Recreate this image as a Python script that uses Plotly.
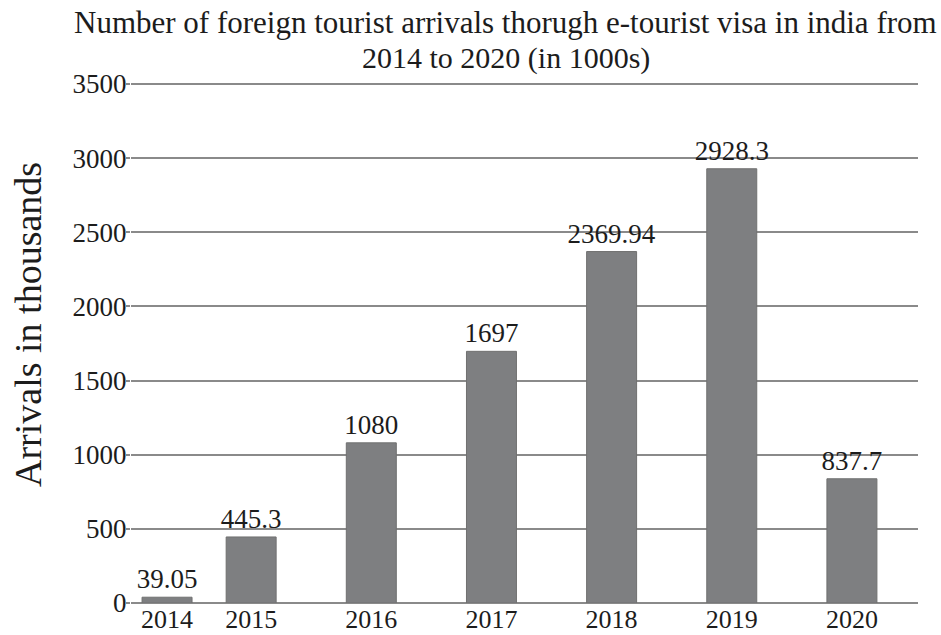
import plotly.graph_objects as go

# Foreign tourist arrivals on e-tourist visa, India (thousands)
years = ["2014", "2015", "2016", "2017", "2018", "2019", "2020"]
arrivals = [39.05, 445.3, 1080, 1697, 2369.94, 2928.3, 837.7]
value_labels = ["39.05", "445.3", "1080", "1697", "2369.94", "2928.3", "837.7"]
y_ticks = [0, 500, 1000, 1500, 2000, 2500, 3000, 3500]

# slot of each bar along the x axis (the first bar sits closer to the second)
slots = [0.3, 1, 2, 3, 4, 5, 6]

title_lines = [
    "Number of foreign tourist arrivals thorugh e-tourist visa in india from",
    "2014 to 2020 (in 1000s)",
]

SERIF = "Liberation Serif, Times New Roman, serif"
INK = "#1c1c1c"
GRID = "#8a8a8a"

# plot area in pixels
L, R, T, B = 131, 23, 81, 32
W, H = 941, 635
PH = H - T - B
PW = W - L - R
Y_TOP = 3520


def py(pix):
    """vertical pixel -> paper coordinate"""
    return (H - B - pix) / PH


def px(pix):
    """horizontal pixel -> paper coordinate"""
    return (pix - L) / PW


fig = go.Figure(
    go.Bar(
        x=slots,
        y=arrivals,
        width=0.416,
        text=value_labels,
        textposition="outside",
        constraintext="none",
        textfont=dict(family=SERIF, size=27, color=INK),
        cliponaxis=False,
        marker=dict(color="#7e7f81", line=dict(color="#707070", width=1)),
        hoverinfo="skip",
    )
)

annotations = [
    dict(
        text="Arrivals in thousands",
        textangle=-90,
        xref="paper",
        yref="paper",
        x=px(28),
        y=py(325),
        xanchor="center",
        yanchor="middle",
        showarrow=False,
        font=dict(family=SERIF, size=38, color=INK),
    ),
    dict(
        text=title_lines[0],
        xref="paper",
        yref="paper",
        x=px(505),
        y=py(23),
        xanchor="center",
        yanchor="middle",
        showarrow=False,
        font=dict(family=SERIF, size=31, color=INK),
    ),
    dict(
        text=title_lines[1],
        xref="paper",
        yref="paper",
        x=px(506),
        y=py(58),
        xanchor="center",
        yanchor="middle",
        showarrow=False,
        font=dict(family=SERIF, size=30, color=INK),
    ),
]

fig.update_layout(
    width=W,
    height=H,
    margin=dict(l=L, r=R, t=T, b=B, autoexpand=False),
    paper_bgcolor="white",
    plot_bgcolor="white",
    showlegend=False,
    font=dict(family=SERIF, color=INK, size=27),
    xaxis=dict(
        range=[0, 6.55],
        tickvals=slots,
        ticktext=years,
        showgrid=False,
        zeroline=False,
        showline=False,
        ticks="",
        automargin=False,
        ticklabelstandoff=-2,
        tickfont=dict(family=SERIF, size=26, color=INK),
        fixedrange=True,
    ),
    yaxis=dict(
        range=[0, Y_TOP],
        tickvals=y_ticks,
        showgrid=True,
        gridcolor=GRID,
        gridwidth=2,
        zeroline=True,
        zerolinecolor=GRID,
        zerolinewidth=2,
        showline=False,
        ticks="outside",
        ticklen=4,
        tickwidth=2,
        tickcolor=GRID,
        automargin=False,
        ticklabelstandoff=-6,
        tickfont=dict(family=SERIF, size=27, color=INK),
        fixedrange=True,
    ),
    annotations=annotations,
)

fig.write_html("out.html")
